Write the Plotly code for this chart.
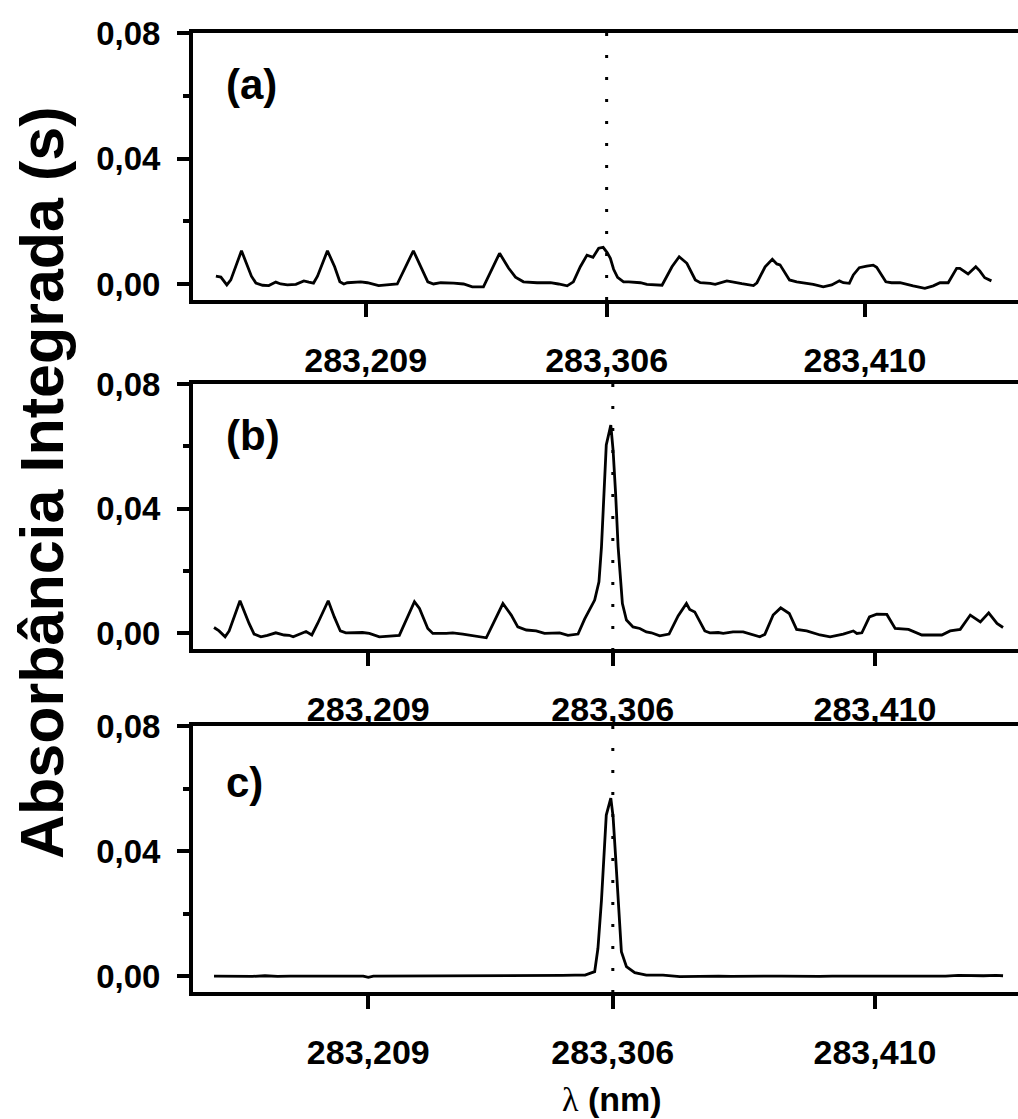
import plotly.graph_objects as go

# ---------------- data ----------------
# (a) integrated absorbance spectrum around 283.306 nm
wl_a = [283.1487, 283.1507, 283.1531, 283.1547, 283.1590, 283.1630, 283.1648, 283.1675, 283.1700, 283.1728,
        283.1748, 283.1775, 283.1809, 283.1841, 283.1861, 283.1880, 283.1896, 283.1936, 283.1965, 283.1986,
        283.2002, 283.2016, 283.2070, 283.2097, 283.2142, 283.2217, 283.2282, 283.2311, 283.2340, 283.2363,
        283.2392, 283.2444, 283.2484, 283.2519, 283.2564, 283.2629, 283.2665, 283.2693, 283.2725, 283.2780,
        283.2834, 283.2866, 283.2901, 283.2926, 283.2954, 283.2981, 283.3005, 283.3028, 283.3046, 283.3062,
        283.3075, 283.3088, 283.3104, 283.3128, 283.3149, 283.3196, 283.3222, 283.3283, 283.3323, 283.3352,
        283.3383, 283.3417, 283.3437, 283.3477, 283.3497, 283.3544, 283.3571, 283.3604, 283.3651, 283.3665,
        283.3698, 283.3727, 283.3745, 283.3758, 283.3796, 283.3825, 283.3892, 283.3932, 283.3966, 283.3997,
        283.4013, 283.4037, 283.4053, 283.4077, 283.4107, 283.4133, 283.4147, 283.4184, 283.4207, 283.4241,
        283.4294, 283.4341, 283.4375, 283.4402, 283.4435, 283.4469, 283.4482, 283.4515, 283.4546, 283.4562,
        283.4582, 283.4609]
abs_a = [0.0025, 0.0022, -0.0003, 0.0013, 0.0106, 0.0025, 0.0003, -0.0004, -0.0005, 0.0006,
         0.0000, -0.0003, -0.0001, 0.0010, 0.0006, 0.0003, 0.0025, 0.0106, 0.0055, 0.0007,
         0.0000, 0.0004, 0.0007, 0.0004, -0.0005, 0.0000, 0.0106, 0.0055, 0.0007, 0.0000,
         0.0004, 0.0003, 0.0000, -0.0009, -0.0009, 0.0098, 0.0051, 0.0022, 0.0007, 0.0004,
         0.0004, 0.0000, -0.0006, 0.0007, 0.0055, 0.0092, 0.0085, 0.0114, 0.0117, 0.0100,
         0.0082, 0.0047, 0.0021, 0.0007, 0.0007, 0.0004, -0.0001, -0.0004, 0.0055, 0.0087,
         0.0066, 0.0013, 0.0004, 0.0002, -0.0001, 0.0010, 0.0007, 0.0001, -0.0005, 0.0004,
         0.0055, 0.0079, 0.0064, 0.0061, 0.0013, 0.0007, -0.0001, -0.0009, -0.0003, 0.0010,
         0.0004, 0.0002, 0.0029, 0.0052, 0.0057, 0.0060, 0.0053, 0.0007, 0.0004, 0.0004,
         -0.0006, -0.0014, -0.0006, 0.0004, 0.0004, 0.0050, 0.0050, 0.0032, 0.0055, 0.0042,
         0.0020, 0.0010]

# (b)
wl_b = [283.1478, 283.1498, 283.1522, 283.1538, 283.1581, 283.1617, 283.1637, 283.1664, 283.1690, 283.1723,
        283.1756, 283.1776, 283.1792, 283.1843, 283.1866, 283.1889, 283.1931, 283.1955, 283.1979, 283.2001,
        283.2067, 283.2094, 283.2134, 283.2213, 283.2273, 283.2293, 283.2326, 283.2346, 283.2399, 283.2425,
        283.2465, 283.2491, 283.2558, 283.2624, 283.2657, 283.2683, 283.2717, 283.2756, 283.2789, 283.2849,
        283.2882, 283.2922, 283.2948, 283.2988, 283.3005, 283.3015, 283.3024, 283.3034, 283.3052, 283.3061,
        283.3071, 283.3081, 283.3098, 283.3114, 283.3140, 283.3167, 283.3193, 283.3213, 283.3246, 283.3283,
        283.3319, 283.3352, 283.3365, 283.3385, 283.3425, 283.3445, 283.3478, 283.3498, 283.3537, 283.3577,
        283.3643, 283.3663, 283.3696, 283.3726, 283.3760, 283.3789, 283.3829, 283.3882, 283.3922, 283.3974,
        283.4014, 283.4028, 283.4048, 283.4078, 283.4107, 283.4147, 283.4180, 283.4233, 283.4286, 283.4319,
        283.4365, 283.4398, 283.4438, 283.4478, 283.4518, 283.4551, 283.4584, 283.4608]
abs_b = [0.0018, 0.0007, -0.0012, 0.0007, 0.0104, 0.0031, -0.0003, -0.0012, -0.0007, 0.0001,
         -0.0006, -0.0007, -0.0012, 0.0005, -0.0006, 0.0031, 0.0104, 0.0052, 0.0007, 0.0001,
         0.0002, -0.0001, -0.0012, -0.0007, 0.0101, 0.0079, 0.0015, -0.0001, -0.0001, 0.0001,
         -0.0003, -0.0007, -0.0015, 0.0095, 0.0058, 0.0020, 0.0010, 0.0007, -0.0001, 0.0001,
         -0.0007, -0.0003, 0.0045, 0.0106, 0.0165, 0.0277, 0.0427, 0.0604, 0.0668, 0.0588,
         0.0449, 0.0277, 0.0095, 0.0042, 0.0020, 0.0015, 0.0004, 0.0001, -0.0009, -0.0003,
         0.0055, 0.0095, 0.0076, 0.0068, 0.0007, 0.0001, 0.0002, -0.0001, 0.0004, 0.0004,
         -0.0012, -0.0004, 0.0058, 0.0081, 0.0063, 0.0012, 0.0007, -0.0006, -0.0012, -0.0003,
         0.0007, -0.0001, 0.0001, 0.0052, 0.0061, 0.0060, 0.0015, 0.0012, -0.0006, -0.0006,
         -0.0006, 0.0007, 0.0012, 0.0058, 0.0036, 0.0065, 0.0031, 0.0018]

# (c)
wl_c = [283.1478, 283.1530, 283.1580, 283.1630, 283.1680, 283.1730, 283.1780, 283.1830, 283.1880, 283.1930,
        283.1980, 283.2030, 283.2070, 283.2090, 283.2110, 283.2160, 283.2210, 283.2260, 283.2310, 283.2360,
        283.2410, 283.2460, 283.2510, 283.2560, 283.2610, 283.2660, 283.2710, 283.2760, 283.2810, 283.2860,
        283.2910, 283.2950, 283.2988, 283.3001, 283.3015, 283.3024, 283.3034, 283.3052, 283.3061, 283.3071,
        283.3081, 283.3094, 283.3114, 283.3147, 283.3193, 283.3259, 283.3326, 283.3380, 283.3430, 283.3480,
        283.3530, 283.3580, 283.3630, 283.3680, 283.3730, 283.3780, 283.3830, 283.3880, 283.3930, 283.3980,
        283.4030, 283.4080, 283.4130, 283.4180, 283.4230, 283.4280, 283.4330, 283.4380, 283.4430, 283.4480,
        283.4530, 283.4580, 283.4608]
abs_c = [0.0000, -0.0001, 0.0000, -0.0001, 0.0001, -0.0001, 0.0000, -0.0001, 0.0000, 0.0000,
         -0.0001, 0.0000, 0.0000, -0.0004, 0.0000, 0.0000, 0.0001, 0.0000, 0.0000, 0.0001,
         0.0001, 0.0000, 0.0001, 0.0000, 0.0001, 0.0001, 0.0002, 0.0001, 0.0002, 0.0002,
         0.0003, 0.0003, 0.0014, 0.0089, 0.0243, 0.0382, 0.0515, 0.0569, 0.0510, 0.0382,
         0.0243, 0.0078, 0.0030, 0.0011, 0.0003, 0.0003, -0.0002, -0.0001, -0.0001, 0.0000,
         -0.0001, 0.0000, -0.0001, 0.0000, 0.0000, -0.0001, 0.0000, -0.0001, 0.0000, 0.0000,
         -0.0001, 0.0000, 0.0000, -0.0001, 0.0000, 0.0000, 0.0001, 0.0000, 0.0002, 0.0001,
         0.0001, 0.0002, 0.0001]

line_wl = 283.306
x_tickvals = [283.209, 283.306, 283.410]
x_ticktext = ["283,209", "283,306", "283,410"]
y_tickvals = [0.00, 0.04, 0.08]
y_ticktext = ["0,00", "0,04", "0,08"]
y_minor = [0.02, 0.06]
panel_labels = ["(a)", "(b)", "c)"]
y_title = "Absorbância Integrada (s)"

# ---------------- layout ----------------
W, H = 1018, 1119
FONT = "Liberation Sans, Arial, sans-serif"
AXW = 4

panels = [
    dict(data=(wl_a, abs_a), xr=[283.13948, 283.4716], top=33, bot=300),
    dict(data=(wl_b, abs_b), xr=[283.13946, 283.46673], top=384, bot=649),
    dict(data=(wl_c, abs_c), xr=[283.13946, 283.46673], top=726, bot=992),
]
label_pos = [(251, 84), (253, 436), (244, 782)]

fig = go.Figure()
layout = dict(
    template="none",
    width=W, height=H,
    margin=dict(l=0, r=0, t=0, b=0, autoexpand=False),
    paper_bgcolor="white", plot_bgcolor="white",
    showlegend=False,
    font=dict(family=FONT, size=33, color="black", weight="bold"),
)

shapes = []
annotations = []
x_left = 193 / W
for i, p in enumerate(panels):
    n = "" if i == 0 else str(i + 1)
    xa, ya = "x" + n, "y" + n
    wl, ab = p["data"]
    fig.add_trace(go.Scatter(x=wl, y=ab, mode="lines", xaxis=xa, yaxis=ya,
                             line=dict(color="black", width=2.8)))
    ydom = [1 - p["bot"] / H, 1 - p["top"] / H]
    layout["xaxis" + n] = dict(
        domain=[x_left, 1], range=p["xr"], anchor=ya, automargin=False,
        showline=True, linecolor="black", linewidth=AXW, mirror=True,
        ticks="outside", ticklen=13, tickwidth=AXW, tickcolor="black",
        tickvals=x_tickvals, ticktext=x_ticktext, ticklabelstandoff=14,
        showgrid=False, zeroline=False,
        tickfont=dict(family=FONT, size=34, color="black", weight="bold"),
    )
    layout["yaxis" + n] = dict(
        domain=ydom, range=[-0.0051, 0.08], anchor=xa, automargin=False,
        showline=True, linecolor="black", linewidth=AXW, mirror=False,
        ticks="outside", ticklen=12, tickwidth=AXW, tickcolor="black",
        tickvals=y_tickvals, ticktext=y_ticktext, ticklabelstandoff=10,
        minor=dict(tickmode="array", tickvals=y_minor, ticks="outside",
                   ticklen=6, tickwidth=AXW, tickcolor="black"),
        showgrid=False, zeroline=False,
        tickfont=dict(family=FONT, size=33, color="black", weight="bold"),
    )
    # dotted marker at the analytical line
    shapes.append(dict(type="line", xref=xa, yref=ya + " domain",
                       x0=line_wl, x1=line_wl, y0=1, y1=0,
                       line=dict(color="black", width=3, dash="3px,19px")))
    lx, ly = label_pos[i]
    annotations.append(dict(text=panel_labels[i], xref="paper", yref="paper",
                            x=lx / W, y=1 - ly / H, xanchor="center", yanchor="middle",
                            showarrow=False,
                            font=dict(family=FONT, size=42, color="black", weight="bold")))

annotations.append(dict(text=y_title, xref="paper", yref="paper",
                        x=42 / W, y=1 - 483 / H, xanchor="center", yanchor="middle",
                        textangle=-90, showarrow=False,
                        font=dict(family=FONT, size=61, color="black", weight="bold")))
annotations.append(dict(text="<span style='font-family:Liberation Serif;font-weight:normal'>λ</span> (nm)",
                        xref="paper", yref="paper",
                        x=612 / W, y=1 - 1099 / H, xanchor="center", yanchor="middle",
                        showarrow=False,
                        font=dict(family=FONT, size=34, color="black", weight="bold")))

layout["shapes"] = shapes
layout["annotations"] = annotations
fig.update_layout(**layout)
fig.write_html("out.html")
